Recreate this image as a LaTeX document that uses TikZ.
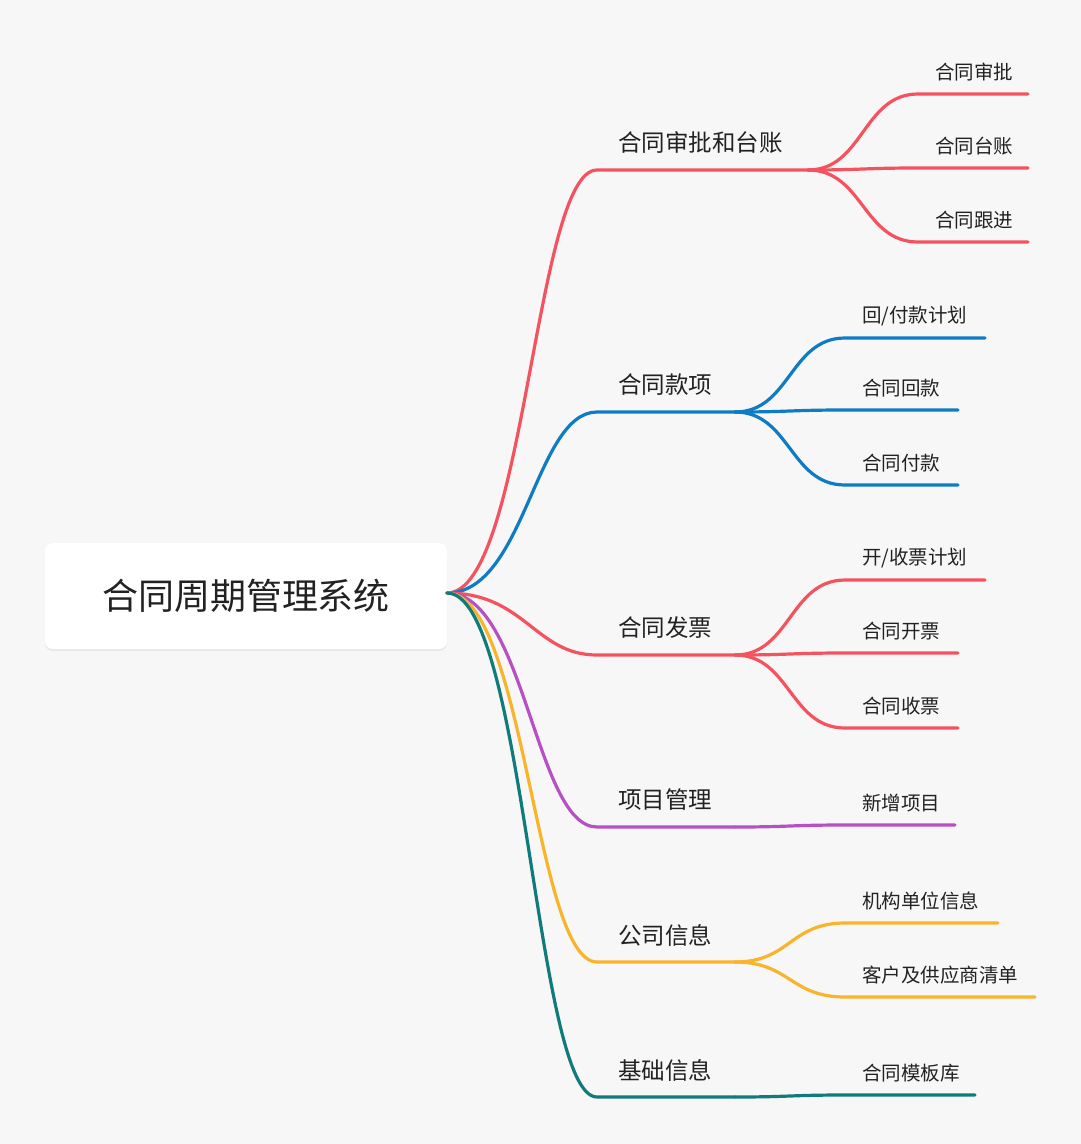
\documentclass[tikz,border=0pt]{standalone}
\usepackage{fontspec}
\setmainfont{Noto Sans CJK SC}
\usetikzlibrary{shadows}
\definecolor{bg}{HTML}{F7F7F7}
\definecolor{cred}{HTML}{F5525F}
\definecolor{cblue}{HTML}{0F7BC4}
\definecolor{cpurple}{HTML}{B94FC4}
\definecolor{cyellow}{HTML}{F8B42B}
\definecolor{cteal}{HTML}{117B7B}
\definecolor{txt}{HTML}{222222}
\tikzset{
 br/.style={line width=3.2pt, line cap=round},
 btext/.style={anchor=west, inner sep=0pt, font=\fontsize{23.5}{26}\selectfont, text=txt},
 ctext/.style={anchor=west, inner sep=0pt, font=\fontsize{19.5}{22}\selectfont, text=txt},
}
\begin{document}
\begin{tikzpicture}[x=1pt,y=-1pt]
\fill[bg] (0,0) rectangle (1081,1144);
\useasboundingbox (0,0) rectangle (1081,1144);
\node[draw=none, fill=white, rounded corners=8pt, minimum width=402pt, minimum height=106pt, drop shadow={opacity=0.12, shadow xshift=0pt, shadow yshift=-2pt}, font=\fontsize{36}{40}\selectfont, text=txt] (root) at (246,596) {合同周期管理系统};
\coordinate (r) at (447,593);
\newcommand{\mybranch}[5]{% color, y, lineend x, name, text
 \coordinate (#4s) at (597,#2);
 \coordinate (#4e) at (#3,#2);
 \draw[br,#1] (r) .. controls (525,593) and (535,#2) .. (#4s) -- (#4e);
 \node[btext] (#4t) at (618,#2-27) {#5};
}
\newcommand{\mychild}[7]{% color, from, fromx, fromy, y, endx, text
 \coordinate (#2a) at (#3+110,#5);
 \coordinate (#2b) at (#6,#5);
 \draw[br,#1] (#2) .. controls (#3+55,#4) and (#3+55,#5) .. (#2a) -- (#2b);
 \node[ctext] (#2t#5) at (#3+127,#5-22) {#7};
}
\mybranch{cred}{170}{808}{ba}{合同审批和台账}
\mychild{cred}{bae}{808}{170}{94}{1028}{合同审批}
\mychild{cred}{bae}{808}{170}{168}{1028}{合同台账}
\mychild{cred}{bae}{808}{170}{242}{1028}{合同跟进}
\mybranch{cblue}{412}{735}{bb}{合同款项}
\mychild{cblue}{bbe}{735}{412}{338}{985}{回/付款计划}
\mychild{cblue}{bbe}{735}{412}{410}{958}{合同回款}
\mychild{cblue}{bbe}{735}{412}{485}{958}{合同付款}
\mybranch{cred}{655}{735}{bc}{合同发票}
\mychild{cred}{bce}{735}{655}{580}{985}{开/收票计划}
\mychild{cred}{bce}{735}{655}{653}{958}{合同开票}
\mychild{cred}{bce}{735}{655}{728}{958}{合同收票}
\mybranch{cpurple}{827}{735}{bd}{项目管理}
\mychild{cpurple}{bde}{735}{827}{825}{955}{新增项目}
\mybranch{cyellow}{962}{735}{be}{公司信息}
\mychild{cyellow}{bee}{735}{962}{923}{998}{机构单位信息}
\mychild{cyellow}{bee}{735}{962}{997}{1035}{客户及供应商清单}
\mybranch{cteal}{1097}{735}{bf}{基础信息}
\mychild{cteal}{bfe}{735}{1097}{1095}{975}{合同模板库}
\end{tikzpicture}
\end{document}
